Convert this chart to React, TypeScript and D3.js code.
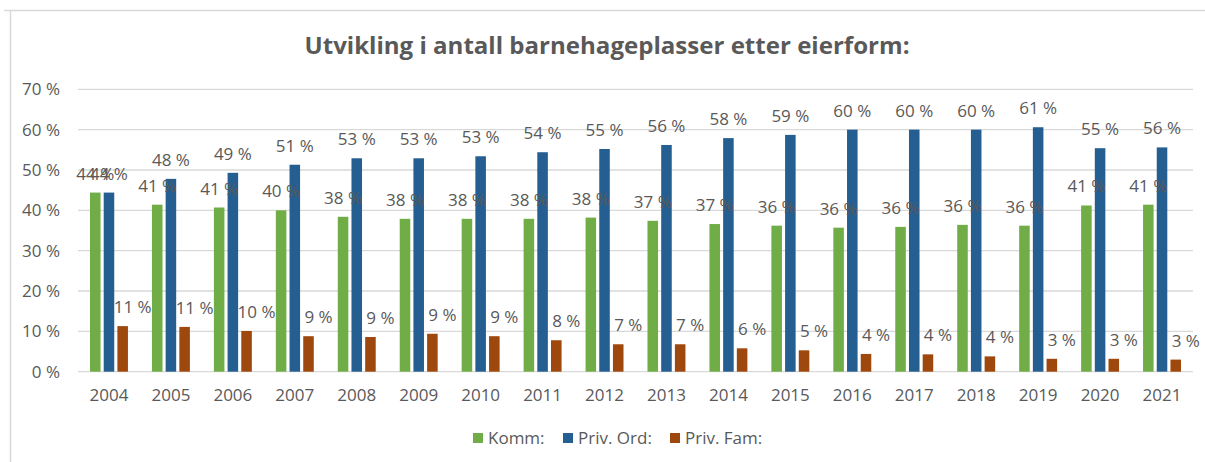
import React, { useRef, useEffect } from "react";
import * as d3 from "d3";

const years = ["2004", "2005", "2006", "2007", "2008", "2009", "2010", "2011", "2012", "2013", "2014", "2015", "2016", "2017", "2018", "2019", "2020", "2021"];
const komm = [44.4, 41.4, 40.7, 40.0, 38.4, 37.9, 37.9, 37.9, 38.2, 37.4, 36.6, 36.2, 35.7, 35.9, 36.4, 36.2, 41.2, 41.4];
const privOrd = [44.4, 47.8, 49.3, 51.3, 52.9, 52.9, 53.4, 54.4, 55.2, 56.2, 57.9, 58.7, 60.0, 60.0, 60.0, 60.6, 55.4, 55.6];
const privFam = [11.3, 11.1, 10.1, 8.8, 8.6, 9.4, 8.8, 7.8, 6.8, 6.8, 5.8, 5.3, 4.4, 4.3, 3.8, 3.2, 3.2, 3.0];
const seriesNames = ["Komm:", "Priv. Ord:", "Priv. Fam:"];
const seriesColors = ["#70AD47", "#255E91", "#9E480E"];
const yTicks = [0, 10, 20, 30, 40, 50, 60, 70];
const title = "Utvikling i antall barnehageplasser etter eierform:";

export default function App() {
   const svgRef = useRef<SVGSVGElement>(null);

   useEffect(() => {
      document.body.style.margin = "0";
      const w = 1205;
      const h = 462;
      const svg = d3.select(svgRef.current).attr("width", w).attr("height", h);
      svg.selectAll("*").remove();

      const font = "'Open Sans', sans-serif";
      const textColor = "#595959";

      // frame
      svg.append("line").attr("x1", 4).attr("x2", w).attr("y1", 10.5).attr("y2", 10.5)
         .attr("stroke", "#D9D9D9").attr("stroke-width", 1.5);
      svg.append("line").attr("x1", 10.5).attr("x2", 10.5).attr("y1", 10).attr("y2", h)
         .attr("stroke", "#D9D9D9").attr("stroke-width", 1.5);

      // title
      svg.append("text")
         .attr("x", 607).attr("y", 54)
         .attr("text-anchor", "middle")
         .attr("font-family", font).attr("font-weight", "bold").attr("font-size", 24)
         .attr("fill", textColor)
         .attr("textLength", 605).attr("lengthAdjust", "spacingAndGlyphs")
         .text(title);

      // scales
      const x0 = d3.scaleBand().domain(years).range([78, 1193]);
      const x1 = d3.scaleBand().domain(seriesNames).range([0, 41.1]).paddingInner(0.23).paddingOuter(0.115);
      const y = d3.scaleLinear().domain([0, 70]).range([371.7, 89.3]);

      // grid + y labels
      const grid = svg.append("g");
      grid.selectAll("line").data(yTicks).join("line")
         .attr("x1", 78).attr("x2", 1193)
         .attr("y1", (d) => y(d)).attr("y2", (d) => y(d))
         .attr("stroke", "#D9D9D9").attr("stroke-width", 1.3);
      grid.selectAll("text").data(yTicks).join("text")
         .attr("x", 60).attr("y", (d) => y(d)).attr("dy", "0.35em")
         .attr("text-anchor", "end")
         .attr("font-family", font).attr("font-size", 17).attr("fill", textColor)
         .text((d) => `${d} %`);

      // x labels
      svg.append("g").selectAll("text").data(years).join("text")
         .attr("x", (d) => x0(d)! + x0.bandwidth() / 2).attr("y", 401)
         .attr("text-anchor", "middle")
         .attr("font-family", font).attr("font-size", 17).attr("fill", textColor)
         .text((d) => d);

      const allSeries = [komm, privOrd, privFam];
      const barX = (yr: string, s: string) => x0(yr)! + x0.bandwidth() / 2 - 20.55 + x1(s)!;

      // bars
      allSeries.forEach((vals, si) => {
         const s = seriesNames[si];
         svg.append("g").selectAll("rect").data(vals).join("rect")
            .attr("x", (d, i) => barX(years[i], s))
            .attr("width", x1.bandwidth())
            .attr("y", (d) => y(d))
            .attr("height", (d) => y(0) - y(d))
            .attr("fill", seriesColors[si]);
      });

      // data labels
      const labelDx = [0, 0, 10];
      allSeries.forEach((vals, si) => {
         const s = seriesNames[si];
         svg.append("g").selectAll("text").data(vals).join("text")
            .attr("x", (d, i) => barX(years[i], s) + x1.bandwidth() / 2 + labelDx[si])
            .attr("y", (d) => y(d) - 13)
            .attr("text-anchor", "middle")
            .attr("font-family", font).attr("font-size", 17).attr("fill", textColor)
            .text((d) => `${Math.round(d)} %`);
      });

      // legend
      const legendX = [473, 563, 670];
      const legend = svg.append("g");
      seriesNames.forEach((name, i) => {
         legend.append("rect").attr("x", legendX[i]).attr("y", 433).attr("width", 10).attr("height", 10)
            .attr("fill", seriesColors[i]);
         legend.append("text").attr("x", legendX[i] + 15).attr("y", 444)
            .attr("font-family", font).attr("font-size", 17).attr("fill", textColor)
            .text(name);
      });
   }, []);

   return (
      <div>
         <svg ref={svgRef}></svg>
      </div>
   );
}
